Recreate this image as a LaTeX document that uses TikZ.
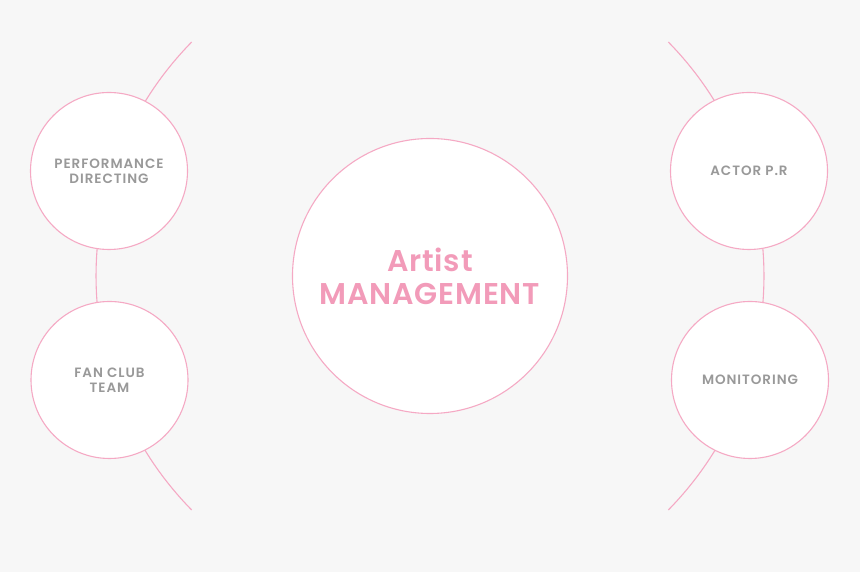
\documentclass[tikz,border=0pt]{standalone}
\usepackage{fontspec}
\setmainfont{Poppins}[BoldFont={Poppins SemiBold}]
\newfontfamily\hubfont{Poppins}[BoldFont={Poppins SemiBold}, LetterSpace=2.5]
\newfontfamily\spokefont{Poppins}[BoldFont={Poppins SemiBold}, LetterSpace=7]
\usetikzlibrary{positioning}
\definecolor{bgcol}{HTML}{F7F7F7}
\definecolor{pinkline}{HTML}{F5A9C4}
\definecolor{pinktext}{HTML}{F29BB9}
\definecolor{graytext}{HTML}{999999}
\tikzset{
  hub/.style={circle, draw=pinkline, fill=white, line width=1.1pt, minimum size=275pt,
    inner sep=0pt, text=pinktext, align=center, font=\hubfont\fontsize{30}{33}\selectfont\bfseries},
  spoke/.style={circle, draw=pinkline, fill=white, line width=1.1pt, minimum size=157pt,
    inner sep=0pt, text=graytext, align=center, font=\spokefont\fontsize{13.5}{15}\selectfont\bfseries},
  orbit/.style={draw=pinkline, line width=1.1pt}
}
\begin{document}
\begin{tikzpicture}[x=1pt,y=1pt]
    \fill[bgcol] (0,0) rectangle (860,572);
    \useasboundingbox (0,0) rectangle (860,572);
    \coordinate (mid) at (430,296);
	% the two big arcs behind the circles
	\draw[orbit] (mid) ++(135.53:334) arc[start angle=135.53, end angle=224.47, radius=334];
	\draw[orbit] (mid) ++(-44.47:334) arc[start angle=-44.47, end angle=44.47, radius=334];

	\node[hub] (artist) at (mid) {Artist\\MANAGEMENT};
	\node[spoke] (perf) at (109,401) {PERFORMANCE\\DIRECTING};
	\node[spoke] (fan) at (109.5,192) {FAN CLUB\\TEAM};
	\node[spoke] (actor) at (749,401) {ACTOR P.R};
	\node[spoke] (monitor) at (750,192) {MONITORING};

          \end{tikzpicture}
\end{document}
